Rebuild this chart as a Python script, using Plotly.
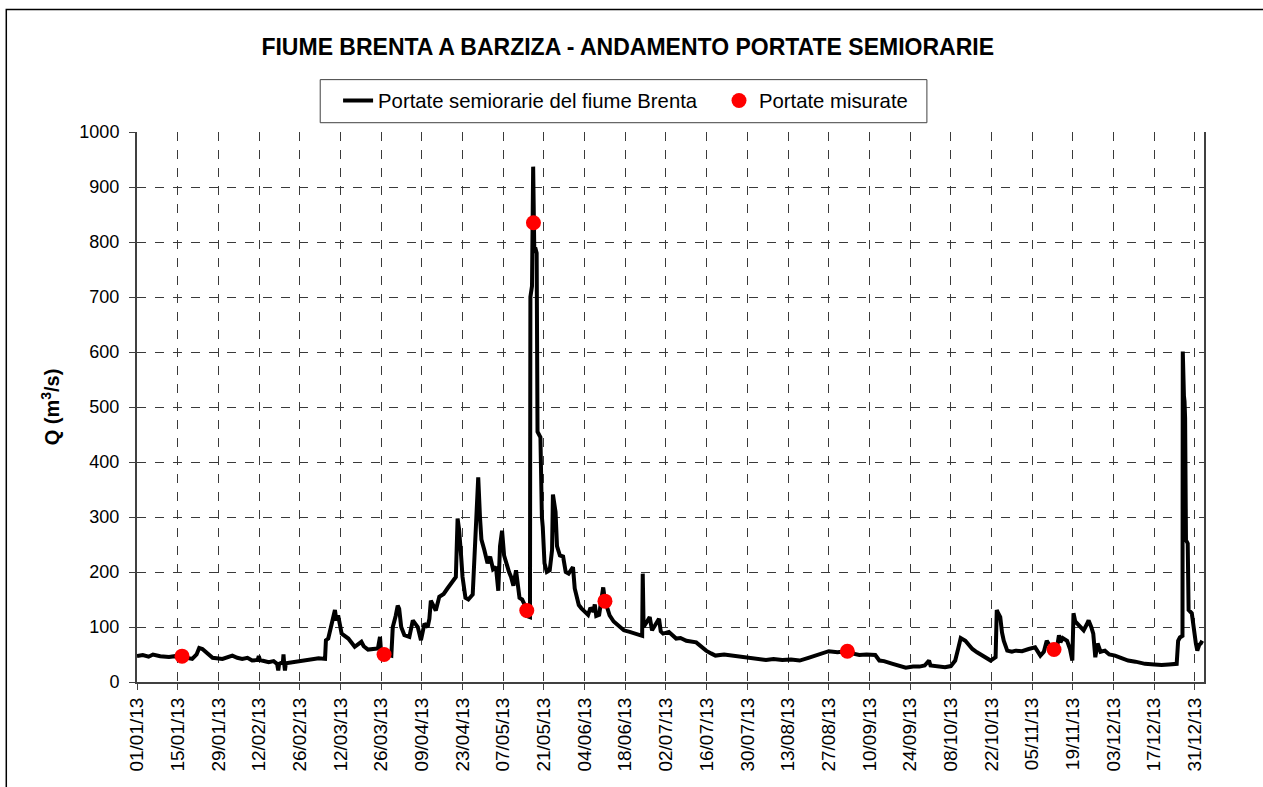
import pandas as pd
import plotly.graph_objects as go

# ---- data: half-hourly discharge, days since 01/01/2013
flow_day = [
    0, 2, 4, 5.5, 8, 11, 13, 14.6, 17, 19, 20.5, 21.4, 22.5, 23.7, 25, 26, 29.4, 31, 32.8, 34.5,
    36.2, 38, 39.6, 41.5, 41.9, 42.3, 45.3, 47, 48.2, 48.6, 48.9, 50.2, 50.4, 50.6, 50.9, 51.2,
    53.3, 56.7, 60.1, 62.5, 64.7, 65, 65.8, 67, 68.1, 68.6, 69.2, 70.4, 72.7, 74.9, 76, 77.2,
    78, 79.5, 82.9, 83.6, 83.9, 85, 87.5, 88, 89, 89.7, 90.2, 90.9, 92, 93.7, 94.9, 95.8, 96.6,
    97.7, 98.9, 100, 100.6, 101.1, 102, 102.8, 104, 105.5, 106.8, 108, 109.7, 110.3, 110.8,
    111.5, 112, 113, 114, 115.5, 116.4, 117.4, 118, 118.5, 119.5, 120.6, 121.5, 122.5, 123.5,
    124.3, 124.9, 125.6, 126.3, 127, 128, 128.7, 129.5, 130.4, 131, 131.6, 132.5, 133.3, 134.1,
    135.2, 135.35, 135.9, 136.3, 136.5, 136.7, 137.0, 137.5, 137.8, 138.8, 139.3, 139.6, 140.2,
    141, 142, 142.8, 143.1, 143.6, 144, 144.5, 145.5, 146.6, 147.5, 148.5, 150, 150.6, 151.2,
    152, 152.9, 154, 155.2, 156, 157, 157.5, 158, 159, 160.4, 161, 162.6, 164, 166, 167.5,
    169.5, 171, 173, 173.8, 174, 174.3, 175, 176.4, 177.2, 178, 179.6, 180.2, 181, 183, 185.5,
    187, 189, 192.4, 194, 195.8, 197.5, 199, 202, 205, 208, 210.7, 213, 216.4, 219, 222, 225,
    228, 231, 233.6, 236, 238, 241, 244, 246, 248.5, 251, 254, 255.4, 257, 260, 262, 264.5,
    267, 269.2, 271, 272.5, 273, 276, 278, 280, 281.5, 282.5, 283.4, 285, 286, 287.4, 289,
    290.8, 292.5, 293.7, 295.4, 295.8, 296.3, 297, 297.6, 298.2, 299.4, 301, 302.3, 304.5,
    306.8, 309, 310.8, 312, 313, 314, 315, 316.5, 317.2, 317.7, 318.5, 320, 321, 321.8, 322.2,
    322.8, 324, 325.7, 326.7, 327.4, 328.3, 329, 329.7, 330.5, 331.5, 333, 334.5, 336.5,
    338.5, 341, 343.5, 346.8, 350, 352.5, 355, 357.7, 358.2, 358.8, 359.7, 359.8, 360.2,
    360.4, 360.6, 360.8, 360.9, 361.5, 361.8, 362.9, 363.4, 364.3, 364.8, 365.5, 366, 366.5,
]
flow_q = [
    47, 49, 46, 50, 47, 45.5, 47, 42, 44, 42, 50, 62, 60, 55, 48, 44, 42, 45, 48, 44,
    42, 44, 39, 40, 47, 40, 36, 38, 33, 21, 33, 36, 50, 36, 21, 34,
    36, 39, 41, 43, 42, 76, 79, 103, 131, 112, 121, 88, 79, 64, 68, 73,
    65, 59, 61, 82, 60, 52, 48, 100, 120, 139, 133, 100, 85, 82, 112, 105, 100,
    76, 106, 100, 115, 148, 140, 130, 155, 160, 170, 178, 191, 297, 278,
    230, 191, 153, 150, 159, 253, 372, 300, 259, 240, 216, 228, 205, 209,
    166, 247, 275, 230, 216, 200, 191, 175, 203, 180, 153, 150, 141, 120,
    118, 700, 720, 937, 850, 780, 790, 780, 455, 445, 300, 282, 216,
    200, 203, 240, 341, 320, 309, 247, 230, 228, 200, 197, 209, 170, 153,
    140, 134, 128, 122, 135, 128, 141, 120, 122, 172, 148, 121, 110, 100, 94,
    91, 88, 85, 84, 197, 100, 106, 118, 94, 100, 115, 92, 88, 91, 79,
    80, 75, 72, 64, 57, 52, 48, 50, 48, 46, 45, 44, 40, 42, 40, 41,
    39, 44, 48, 52, 56, 54, 56, 52, 49, 50, 49, 39, 38, 33, 30, 26,
    28, 28, 30, 39, 30, 28, 27, 29, 39, 60, 80, 75, 68, 60, 54,
    48, 42, 39, 45, 131, 125, 118, 90, 75, 57, 55, 57, 56,
    60, 63, 48, 55, 75, 65, 58, 62, 85, 72, 80, 75, 60, 39, 125,
    110, 103, 94, 104, 112, 100, 88, 45, 70, 55, 57, 50, 48,
    44, 39, 37, 33, 32, 31, 32, 33, 75, 81, 84, 601, 520,
    510, 480, 300, 258, 252, 131, 125, 101, 70, 57, 68, 70, 75,
]

# ---- measured discharges
meas_day = [15.5, 85, 134.1, 136.4, 161, 244.4, 315.5]
meas_q = [47, 50, 130, 835, 147, 56, 59]

# ---- axis labels / text
title_text = "FIUME BRENTA A BARZIZA - ANDAMENTO PORTATE SEMIORARIE"
series_names = ["Portate semiorarie del fiume Brenta", "Portate misurate"]
y_title = "Q (m<sup>3</sup>/s)"
y_ticks = list(range(0, 1001, 100))

base = pd.Timestamp("2013-01-01")
flow_x = base + pd.to_timedelta(flow_day, unit="D")
meas_x = base + pd.to_timedelta(meas_day, unit="D")

FONT = "Liberation Sans, Arial, sans-serif"
GRID = "#3a3a3a"
PAD = "\u00a0" * 3  # spacing between the two legend entries

fig = go.Figure()
fig.add_trace(go.Scatter(
    x=flow_x, y=flow_q, mode="lines", name=series_names[0] + PAD,
    line=dict(color="black", width=4), showlegend=True,
))
fig.add_trace(go.Scatter(
    x=meas_x, y=meas_q, mode="markers", name=series_names[1],
    marker=dict(color="#FF0000", size=15, line=dict(width=0)),
))

fig.update_layout(
    width=1263, height=787,
    paper_bgcolor="white", plot_bgcolor="white",
    margin=dict(l=137, r=59, t=132, b=105),
    font=dict(family=FONT, color="black", size=18),
    title=dict(text="<b>" + title_text + "</b>", x=0.497, xanchor="center",
               y=1 - 47 / 787, yanchor="middle", xref="container",
               font=dict(size=23, family=FONT, color="black")),
    legend=dict(orientation="h", x=0.4579, xanchor="center", y=1.093, yanchor="top",
                borderwidth=0, bgcolor="rgba(255,255,255,0)",
                font=dict(size=20.3, family=FONT)),
    showlegend=True,
    shapes=[
        dict(type="rect", xref="paper", yref="paper",
             x0=-0.1225, x1=1.2, y0=-0.3, y1=1.2226,
             line=dict(color="black", width=1.5), fillcolor="rgba(0,0,0,0)",
             layer="below"),
        dict(type="rect", xref="paper", yref="paper",
             x0=0.1717, x1=0.7403, y0=1.0169, y1=1.0952,
             line=dict(color="#404040", width=1), fillcolor="white",
             layer="below"),
    ],
)

fig.update_xaxes(
    type="date",
    range=[base, base + pd.Timedelta(days=367.1)],
    tick0=base, dtick=14 * 86400000, tickformat="%d/%m/%y", tickangle=-90,
    ticks="outside", ticklen=6, tickcolor="#404040", tickwidth=1,
    showline=True, linecolor="#404040", linewidth=2, mirror=False,
    showgrid=True, gridcolor=GRID, griddash="dash", gridwidth=1,
    tickfont=dict(size=19, family=FONT), zeroline=False,
)
fig.update_yaxes(
    range=[0, 1000], tickvals=y_ticks,
    ticks="outside", ticklen=6, tickcolor="#404040", tickwidth=1,
    showline=True, linecolor="#404040", linewidth=2, mirror=True,
    showgrid=True, gridcolor=GRID, griddash="dash", gridwidth=1,
    tickfont=dict(size=18, family=FONT), zeroline=False, ticklabelstandoff=6,
    title=dict(text="<b>" + y_title + "</b>", font=dict(size=20, family=FONT), standoff=14),
)

fig.write_html("out.html", config={"displayModeBar": False},
               post_script="document.body.style.margin='0';")
